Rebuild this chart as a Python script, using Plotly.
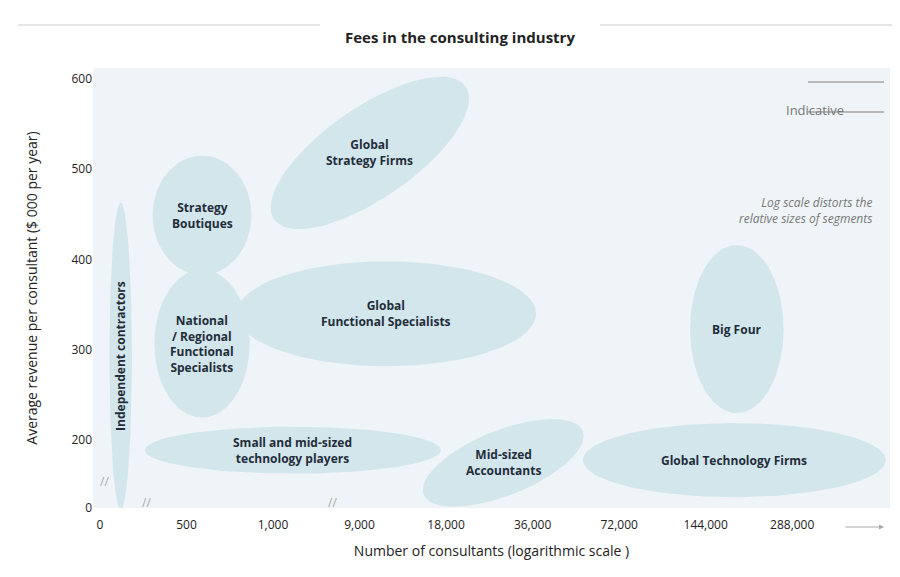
import numpy as np
import plotly.graph_objects as go

# x axis is a broken log scale: one slot per tick
x_ticks = ["0", "500", "1,000", "9,000", "18,000", "36,000", "72,000", "144,000", "288,000"]
y_ticks = [125, 200, 300, 400, 500, 600]
y_ticktext = ["0", "200", "300", "400", "500", "600"]

segments = ["Independent contractors", "Strategy<br>Boutiques", "National<br>/ Regional<br>Functional<br>Specialists",
            "Global<br>Strategy Firms", "Global<br>Functional Specialists", "Small and mid-sized<br>technology players",
            "Mid-sized<br>Accountants", "Global Technology Firms", "Big Four"]
# centre position (tick slot), centre revenue ($000), half width (slots), half height ($000), tilt (deg)
seg_x = [0.24, 1.18, 1.18, 3.12, 3.31, 2.23, 4.66, 7.33, 7.36]
seg_y = [293, 449, 307, 518, 340, 189, 175, 178, 323]
seg_hw = [0.13, 0.57, 0.55, 1.35, 1.73, 1.71, 0.99, 1.75, 0.54]
seg_hh = [170, 66, 82, 50, 58, 26, 36, 41, 93]
seg_tilt = [0, 0, 0, 35, 0, 0, 22, 0, 0]

PX_X, PX_Y = 86.5, 0.91  # pixels per unit, used only to keep tilt undistorted

fig = go.Figure()
t = np.linspace(0, 2 * np.pi, 120)
for name, cx, cy, hw, hh, tilt in zip(segments, seg_x, seg_y, seg_hw, seg_hh, seg_tilt):
    a, b = hw * PX_X, hh * PX_Y
    th = np.radians(tilt)
    px = a * np.cos(t) * np.cos(th) - b * np.sin(t) * np.sin(th)
    py = a * np.cos(t) * np.sin(th) + b * np.sin(t) * np.cos(th)
    fig.add_trace(go.Scatter(x=cx + px / PX_X, y=cy + py / PX_Y, mode="lines", fill="toself",
                             fillcolor="#d3e6ec", line=dict(width=0), hoverinfo="skip"))
    fig.add_annotation(x=cx, y=cy, text=f"<b>{name}</b>", showarrow=False,
                       textangle=-90 if name.startswith("Independent") else 0,
                       font=dict(size=12, color="#1f2d3a"))

fig.update_layout(
    width=900, height=577, showlegend=False,
    paper_bgcolor="white", plot_bgcolor="#eef4f7",
    margin=dict(l=85, r=18, t=60, b=77),
    font=dict(family="Open Sans", size=12, color="#222"),
    xaxis=dict(range=[-0.08, 9.13], tickvals=list(range(len(x_ticks))), ticktext=x_ticks,
               showgrid=False, zeroline=False, ticks="", ticklabelstandoff=8,
               title=dict(text="Number of consultants (logarithmic scale )", standoff=14)),
    yaxis=dict(range=[125, 612], tickvals=y_ticks, ticktext=y_ticktext,
               showgrid=False, zeroline=False, ticks="",
               title=dict(text="Average revenue per consultant ($ 000 per year)", standoff=30)),
)

def px_x(p):
    return (p - 85) / 797

def px_y(p):
    return (500 - p) / 440

fig.add_annotation(xref="paper", yref="paper", x=px_x(452), y=px_y(17), text="<b>Fees in the consulting industry</b>",
                   showarrow=False, font=dict(size=15))
for x0, x1 in [(10, 312), (592, 890)]:
    fig.add_shape(type="line", xref="paper", yref="paper", x0=px_x(x0), x1=px_x(x1),
                  y0=px_y(17), y1=px_y(17), line=dict(color="#cccccc", width=1))
# Indicative box
for yy in [74, 104]:
    fig.add_shape(type="line", xref="paper", yref="paper", x0=px_x(800), x1=px_x(876),
                  y0=px_y(yy), y1=px_y(yy), line=dict(color="#b8b8b8", width=2))
fig.add_annotation(xref="paper", yref="paper", x=px_x(838), y=px_y(91), text="Indicative",
                   showarrow=False, font=dict(size=13, color="#777"))
fig.add_annotation(xref="paper", yref="paper", x=px_x(866), y=px_y(184), xanchor="right",
                   text="<i>Log scale distorts the<br>relative sizes of segments</i>", align="right",
                   showarrow=False, font=dict(size=12, color="#777"))
# axis break marks
for xx, yy in [(90, 484), (132, 505), (318, 505)]:
    fig.add_annotation(xref="paper", yref="paper", x=px_x(xx), y=px_y(yy), text="//",
                       showarrow=False, font=dict(size=12, color="#aaa"))
fig.add_annotation(xref="paper", yref="paper", x=px_x(876), y=px_y(519), ax=-40, ay=0,
                   text="", showarrow=True, arrowhead=2, arrowsize=1, arrowwidth=1, arrowcolor="#aaa")

fig.write_html("out.html")
